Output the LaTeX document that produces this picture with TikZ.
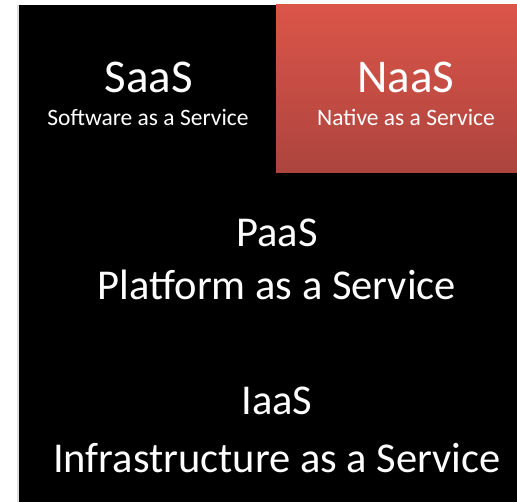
\documentclass[tikz,border=0pt]{standalone}
\usepackage{fontspec}
\setmainfont{Carlito}
\definecolor{redtop}{HTML}{DC5549}
\definecolor{redbot}{HTML}{AC443E}
\begin{document}
\begin{tikzpicture}[x=1pt,y=-1pt,
  lbl/.style={text=white,anchor=base,inner sep=0pt},
  big/.style={lbl,font=\fontsize{47}{47}\selectfont},
  small/.style={lbl,font=\fontsize{23.5}{23.5}\selectfont},
  mid/.style={lbl,font=\fontsize{42.5}{42.5}\selectfont}]
\useasboundingbox (0,0) rectangle (517,502);
\fill[white] (0,0) rectangle (517,502);
\fill[black!12] (16.5,5) rectangle (19,502);
\fill[black] (19,5) rectangle (517,502);
\shade[top color=redtop,bottom color=redbot] (276,5) rectangle (517,173);
\node[big] (saas) at (149,93) {SaaS};
\node[small] (saasl) at (148,126) {Software as a Service};
\node[big] (naas) at (406,93) {NaaS};
\node[small] (naasl) at (406,126) {Native as a Service};
\node[mid] (paas) at (277,247) {PaaS};
\node[mid] (paasl) at (277,300) {Platform as a Service};
\node[mid] (iaas) at (277,415) {IaaS};
\node[mid] (iaasl) at (277,473) {Infrastructure as a Service};
\end{tikzpicture}
\end{document}
